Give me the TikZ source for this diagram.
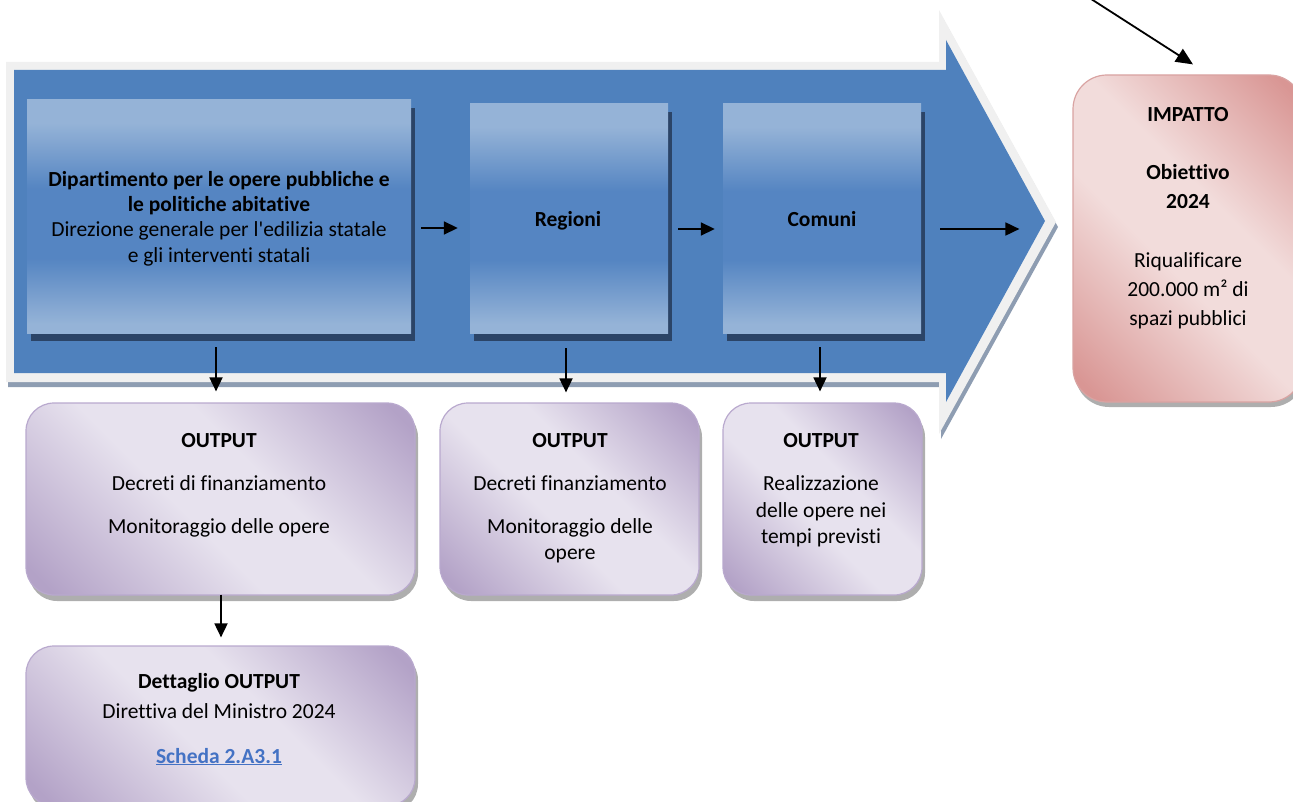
\documentclass[tikz,border=0pt]{standalone}
\usepackage{fontspec}
\newfontfamily\calfont{Carlito}[Ligatures=NoCommon]
\usetikzlibrary{arrows.meta,calc,shadows}
\definecolor{arrowblue}{HTML}{4F81BD}
\definecolor{bl1}{HTML}{95B3D7}
\definecolor{bl2}{HTML}{5585C2}
\definecolor{navyshadow}{HTML}{2B4467}
\definecolor{pdark}{HTML}{B3A2C7}
\definecolor{plight}{HTML}{E7E2EE}
\definecolor{pborder}{HTML}{B9A9CE}
\definecolor{rdark}{HTML}{D99694}
\definecolor{rlight}{HTML}{F2DCDB}
\definecolor{rborder}{HTML}{D9A3A2}
\definecolor{linkblue}{HTML}{4472C4}
\definecolor{lightedge}{HTML}{F0F0F0}
\definecolor{grayedge}{HTML}{8E9DB2}
\pgfdeclareverticalshading{blueboxshade}{100bp}{color(0bp)=(bl1); color(27bp)=(bl1); color(41bp)=(bl2); color(56bp)=(bl2); color(70bp)=(bl1); color(100bp)=(bl1)}
\pgfdeclareverticalshading{purpshade}{100bp}{color(0bp)=(pdark); color(18bp)=(pdark); color(44bp)=(plight); color(58bp)=(plight); color(82bp)=(pdark); color(100bp)=(pdark)}
\pgfdeclareverticalshading{pinkshade}{100bp}{color(0bp)=(rdark); color(18bp)=(rdark); color(44bp)=(rlight); color(58bp)=(rlight); color(82bp)=(rdark); color(100bp)=(rdark)}
\tikzset{
  bluebox/.style={rectangle, inner sep=0, shade, shading=blueboxshade,
    drop shadow={shadow xshift=4pt, shadow yshift=-8pt, fill=navyshadow, opacity=1}},
  purpbox/.style={rectangle, inner sep=0, rounded corners=28pt, shade, shading=purpshade, shading angle=-45,
    draw=pborder, line width=1.2pt,
    drop shadow={shadow xshift=3pt, shadow yshift=-6pt, fill=black!45, opacity=0.7}},
  pinkbox/.style={rectangle, inner sep=0, rounded corners=34pt, shade, shading=pinkshade, shading angle=-45,
    draw=rborder, line width=1.2pt,
    drop shadow={shadow xshift=2pt, shadow yshift=-5pt, fill=black!45, opacity=0.7}},
  txt/.style={inner sep=0, anchor=base, font=\calfont\fontsize{21.5}{26}\selectfont},
  txtb/.style={txt, font=\calfont\fontsize{21.5}{26}\selectfont\bfseries},
  arr/.style={line width=1.8pt, -{Triangle[length=14pt,width=13pt]}},
}
\begin{document}
\begin{tikzpicture}[x=1pt,y=-1pt]
\useasboundingbox (0,0) rectangle (1293,802);
\clip (0,0) rectangle (1293,802);
% big process arrow
\fill[grayedge, shift={(2,5)}] (6,62) -- (939,62) -- (939,10) -- (1056,222) -- (939,434) -- (939,382) -- (6,382) -- cycle;
\fill[lightedge] (6,62) -- (939,62) -- (939,10) -- (1056,222) -- (939,434) -- (939,382) -- (6,382) -- cycle;
\fill[arrowblue] (14,70) -- (946,70) -- (946,40) -- (1045,221) -- (946,402) -- (946,373) -- (14,373) -- cycle;
% blue boxes
\node[bluebox, minimum width=384pt, minimum height=233pt] (dip) at (219,216.5) {};
\node[bluebox, minimum width=198pt, minimum height=229pt] (reg) at (569,218.5) {};
\node[bluebox, minimum width=198pt, minimum height=229pt] (com) at (822,218.5) {};
% output boxes
\node[purpbox, minimum width=389pt, minimum height=192pt] (out1) at (220.5,499) {};
\node[purpbox, minimum width=259pt, minimum height=192pt] (out2) at (569.5,499) {};
\node[purpbox, minimum width=199pt, minimum height=192pt] (out3) at (822.5,499) {};
\node[purpbox, minimum width=389pt, minimum height=160pt] (det) at (220.5,726) {};
% impact box
\node[pinkbox, minimum width=230pt, minimum height=327pt] (imp) at (1188,238.5) {};
% texts
\node[txtb] (d1) at (219,187) {Dipartimento per le opere pubbliche e};
\node[txtb] (d2) at (219,212) {le politiche abitative};
\node[txt] (d3) at (219,237) {Direzione generale per l'edilizia statale};
\node[txt] (d4) at (219,263) {e gli interventi statali};
\node[txtb] (r1) at (568,227) {Regioni};
\node[txtb] (c1) at (822,227) {Comuni};
\node[txtb] (i1) at (1188,122) {IMPATTO};
\node[txtb] (i2) at (1188,180) {Obiettivo};
\node[txtb] (i3) at (1188,209) {2024};
\node[txt] (i4) at (1188,268) {Riqualificare};
\node[txt] (i5) at (1188,297) {200.000 m² di};
\node[txt] (i6) at (1188,325) {spazi pubblici};
\node[txtb] (o1a) at (219,447) {OUTPUT};
\node[txt] (o1b) at (219,490) {Decreti di finanziamento};
\node[txt] (o1c) at (219,533) {Monitoraggio delle opere};
\node[txtb] (o2a) at (570,447) {OUTPUT};
\node[txt] (o2b) at (570,490) {Decreti finanziamento};
\node[txt] (o2c) at (570,533) {Monitoraggio delle};
\node[txt] (o2d) at (570,559) {opere};
\node[txtb] (o3a) at (821,447) {OUTPUT};
\node[txt] (o3b) at (821,490) {Realizzazione};
\node[txt] (o3c) at (821,517) {delle opere nei};
\node[txt] (o3d) at (821,543) {tempi previsti};
\node[txtb] (t1) at (219,688) {Dettaglio OUTPUT};
\node[txt] (t2) at (219,718) {Direttiva del Ministro 2024};
\node[txtb, text=linkblue] (t3) at (219,763) {\underline{Scheda 2.A3.1}};
% connectors
\draw[arr] ($(dip.east)+(10,11.5)$) -- ($(reg.west)+(-12,9.5)$);
\draw[arr] ($(reg.east)+(10,10.5)$) -- ($(com.west)+(-8,10.5)$);
\draw[arr] ($(com.east)+(19,10.5)$) -- ($(imp.west)+(-53,-9.5)$);
\draw[arr] ($(dip.south)+(-3,14)$) -- ($(out1.north)+(-4.5,-11)$);
\draw[arr] ($(reg.south)+(-3,15)$) -- ($(out2.north)+(-3.5,-10)$);
\draw[arr] ($(com.south)+(-2,14)$) -- ($(out3.north)+(-2.5,-11)$);
\draw[arr] ($(out1.south)+(0.5,-1)$) -- ($(det.north)+(0.5,-8)$);
\coordinate (src) at (1088,-3);
\draw[line width=1.8pt, -{Triangle[length=17pt,width=15pt]}] (src) -- ($(imp.north)+(5,-10)$);
\end{tikzpicture}
\end{document}
